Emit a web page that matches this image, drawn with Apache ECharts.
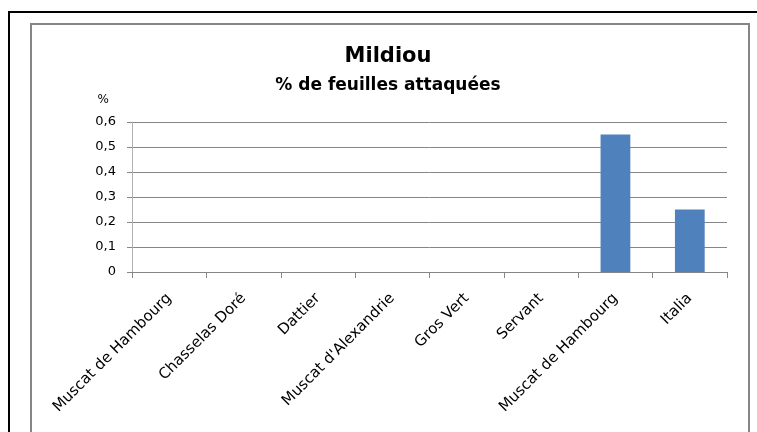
<!DOCTYPE html>
<html>
<head>
<meta charset="utf-8">
<script src="https://cdn.jsdelivr.net/npm/echarts@6/dist/echarts.min.js"></script>
<style>
    html, body {margin: 0; padding: 0; background: #fff;}
    #chart {width: 757px; height: 432px;}
</style>
</head>
<body>
<div id="chart"></div>
<script>
// Mildiou - % de feuilles attaquées
var cepages = ['Muscat de Hambourg', 'Chasselas Doré', 'Dattier', "Muscat d'Alexandrie",
    'Gros Vert', 'Servant', 'Muscat de Hambourg', 'Italia'];
var attaque = [0, 0, 0, 0, 0, 0, 0.55, 0.25];
var yTicks = [0, 0.1, 0.2, 0.3, 0.4, 0.5, 0.6];

var myChart = echarts.init(document.getElementById('chart'));

var option = {
    animation: false,
    textStyle: {fontFamily: 'DejaVu Sans'},
    title: {
        text: 'Mildiou',
        subtext: '% de feuilles attaquées',
        left: 383,
        textAlign: 'center',
        top: 41,
        itemGap: 10,
        textStyle: {fontSize: 21, fontWeight: 'bold', color: '#000'},
        subtextStyle: {fontSize: 17, fontWeight: 'bold', color: '#000'}
    },
    graphic: [
        {
            type: 'rect',
            shape: {x: 9, y: 12, width: 800, height: 460},
            style: {fill: 'none', stroke: '#000', lineWidth: 2}
        },
        {
            type: 'rect',
            shape: {x: 31, y: 24, width: 718, height: 450},
            style: {fill: 'none', stroke: '#868686', lineWidth: 2}
        }
    ],
    grid: {left: 132, right: 30, top: 122, bottom: 160},
    xAxis: {
        type: 'category',
        data: cepages,
        axisLine: {lineStyle: {color: '#868686'}},
        axisTick: {show: true, length: 6, lineStyle: {color: '#868686'}},
        axisLabel: {
            interval: 0,
            rotate: 45,
            margin: 24,
            fontSize: 15,
            color: '#000'
        }
    },
    yAxis: {
        type: 'value',
        min: yTicks[0],
        max: yTicks[yTicks.length - 1],
        interval: 0.1,
        name: '%',
        nameLocation: 'end',
        nameGap: 16,
        nameTextStyle: {fontSize: 12, color: '#000', align: 'right', padding: [0, 23, 0, 0]},
        axisLine: {show: true, lineStyle: {color: '#b0b0b0'}},
        axisTick: {show: true, length: 5, lineStyle: {color: '#868686'}},
        splitLine: {lineStyle: {color: '#868686'}},
        axisLabel: {
            fontSize: 13,
            color: '#000',
            margin: 16,
            formatter: function (v) {
                return String(Math.round(v * 10) / 10).replace('.', ',');
            }
        }
    },
    series: [
        {
            type: 'bar',
            data: attaque,
            barWidth: '40%',
            itemStyle: {color: '#4f81bd'}
        }
    ]
};

myChart.setOption(option);
</script>
</body>
</html>
